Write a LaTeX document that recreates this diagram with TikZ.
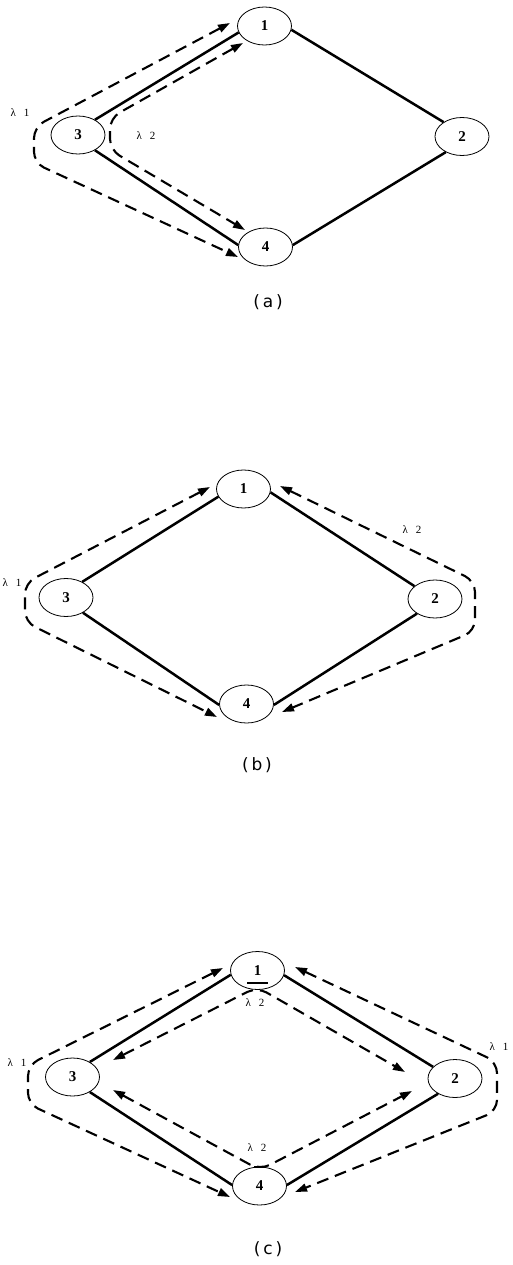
\documentclass[tikz,border=0pt]{standalone}
\usepackage{fontspec}
\setmainfont{Liberation Serif}
\newfontfamily\capfont{DejaVu Sans}
\usetikzlibrary{arrows.meta,shapes.geometric}
\begin{document}
\begin{tikzpicture}[x=1pt,y=-1pt,
  nd/.style={ellipse,draw,line width=0.8pt,fill=white,minimum width=54pt,minimum height=38pt,inner sep=0pt,font=\fontsize{15}{15}\selectfont\bfseries},
  edge/.style={line width=2.5pt},
  route/.style={line width=2.1pt,dash pattern=on 12pt off 7pt,rounded corners=11pt},
  bothend/.style={{Triangle[length=12pt,width=8pt]}-{Triangle[length=12pt,width=8pt]}},
  lab/.style={font=\fontsize{11}{11}\selectfont,inner sep=0pt},
  captext/.style={font=\capfont\fontsize{17}{17}\selectfont,inner sep=0pt},
  bar/.style={line width=2.2pt}]
\useasboundingbox (0,0) rectangle (513,1265);

% ---------- (a) ----------
\coordinate (a1s) at (230,23);
\coordinate (a1e) at (238,257);
\coordinate (a2s) at (243,43);
\coordinate (a2e) at (245,230);
\draw[route,bothend] (a1s) -- (34,127) -- (34,163) -- (a1e);
\draw[route,bothend] (a2s) -- (110,118) -- (110,150) -- (a2e);
\node[nd] (a1) at (264.5,26) {1};
\node[nd] (a3) at (78,135) {3};
\node[nd] (a2) at (462,136.5) {2};
\node[nd] (a4) at (265.5,247) {4};
\draw[edge] (a3.42) -- (a1.194);
\draw[edge] (a1.-8) -- (a2.142);
\draw[edge] (a3.-42) -- (a4.176);
\draw[edge] (a4.4) -- (a2.224);
\node[lab] (la1) at (20,113) {λ\hspace{8pt}1};
\node[lab] (la2) at (146,136) {λ\hspace{8pt}2};
\node[captext] (capa) at (268,302) {(\,a\,)};

% ---------- (b) ----------
\coordinate (b1s) at (210,487);
\coordinate (b1e) at (217,717);
\coordinate (b2s) at (280,486);
\coordinate (b2e) at (282,712);
\draw[route,bothend] (b1s) -- (25,583) -- (25,622) -- (b1e);
\draw[route,bothend] (b2s) -- (475,581) -- (475,631) -- (b2e);
\node[nd] (b1) at (243.5,489) {1};
\node[nd] (b3) at (66,597.5) {3};
\node[nd] (b2) at (435,599) {2};
\node[nd] (b4) at (246.5,704) {4};
\draw[edge] (b3.44) -- (b1.197);
\draw[edge] (b1.-7) -- (b2.148);
\draw[edge] (b3.-42) -- (b4.182);
\draw[edge] (b4.-2) -- (b2.219);
\node[lab] (lb1) at (12,583) {λ\hspace{8pt}1};
\node[lab] (lb2) at (412,530) {λ\hspace{8pt}2};
\node[captext] (capb) at (257,765) {(\,b\,)};

% ---------- (c) ----------
\coordinate (c1s) at (223,968);
\coordinate (c1e) at (230,1197);
\coordinate (c1t) at (295,967);
\coordinate (c1u) at (295,1192);
\coordinate (c2a) at (113,1060);
\coordinate (c2b) at (405,1072);
\coordinate (c2c) at (113,1090);
\coordinate (c2d) at (412,1091);
\draw[route,bothend] (c1s) -- (28,1065) -- (28,1104) -- (c1e);
\draw[route,bothend] (c1t) -- (497,1062) -- (497,1111) -- (c1u);
\draw[route,bothend] (c2a) -- (257,987) -- (c2b);
\draw[route,bothend] (c2c) -- (260,1170) -- (c2d);
\node[nd] (c1) at (257.5,970.5) {1};
\node[nd] (c3) at (72.5,1077) {3};
\node[nd] (c2) at (455,1078.5) {2};
\node[nd] (c4) at (259.5,1186) {4};
\draw[edge] (c3.41) -- (c1.189);
\draw[edge] (c1.-10) -- (c2.152);
\draw[edge] (c3.-41) -- (c4.178);
\draw[edge] (c4.2) -- (c2.222);
\draw[bar] (247,983) -- (268,983);
\draw[bar] (254,1167) -- (265,1167);
\node[lab] (lc1) at (17,1063) {λ\hspace{8pt}1};
\node[lab] (lc1r) at (499,1047) {λ\hspace{8pt}1};
\node[lab] (lc2) at (255,1003) {λ\hspace{8pt}2};
\node[lab] (lc2b) at (257,1148) {λ\hspace{8pt}2};
\node[captext] (capc) at (268,1249) {(\,c\,)};
\end{tikzpicture}
\end{document}
